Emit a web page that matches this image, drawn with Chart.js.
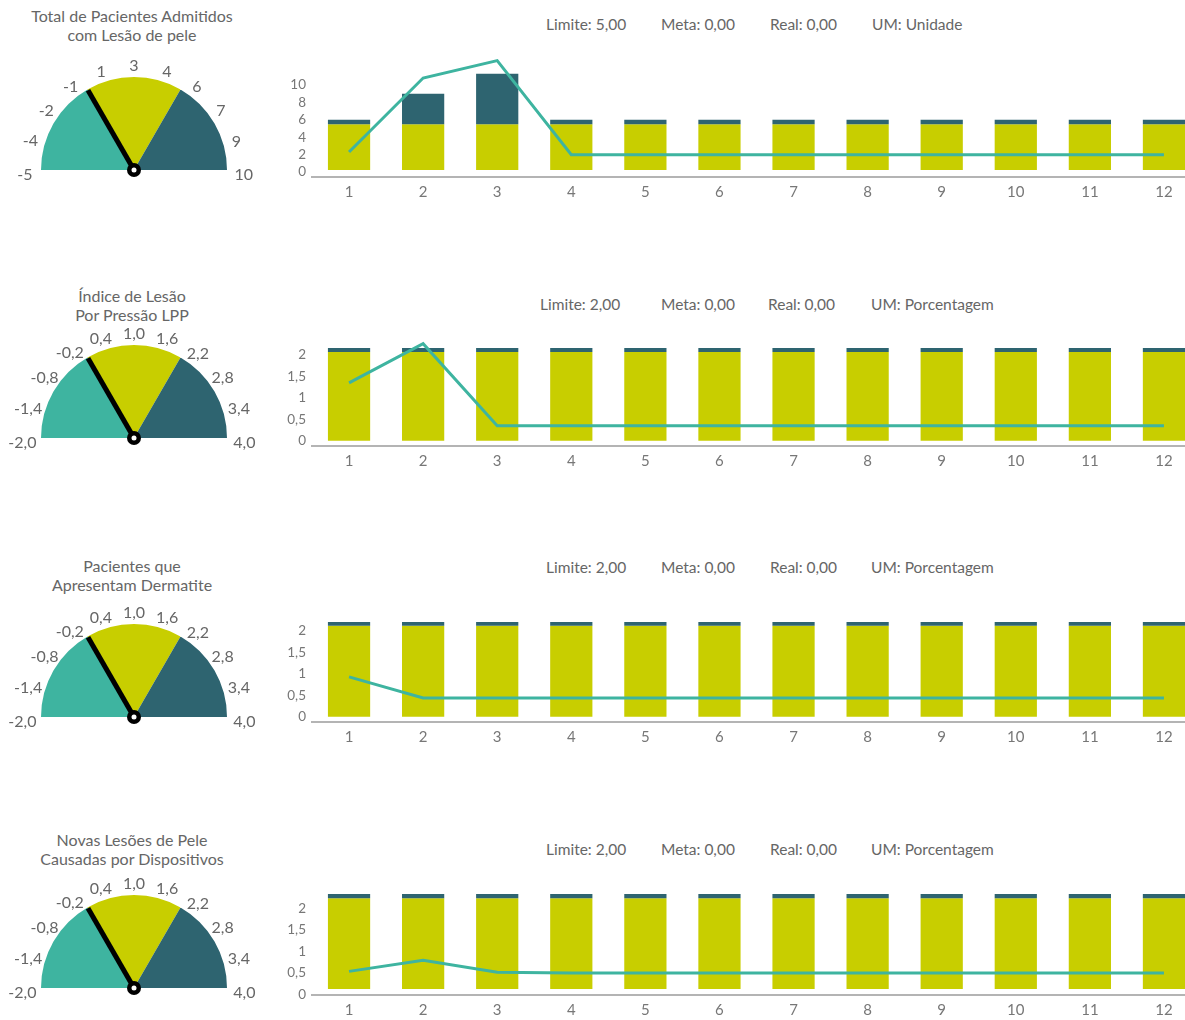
<!DOCTYPE html>
<html>
<head>
<meta charset="utf-8">
<script src="https://cdn.jsdelivr.net/npm/chart.js@4.4.0/dist/chart.umd.min.js"></script>
<style>
    body { margin: 0; width: 1185px; height: 1020px; overflow: hidden; position: relative; background: #fff; font-family: Lato, "Noto Sans", sans-serif; color: #666; }
    .title { position: absolute; left: 0; width: 264px; text-align: center; font-size: 16px; line-height: 19px; }
    .hdr { position: absolute; font-size: 15.5px; line-height: 18px; white-space: nowrap; }
    canvas { position: absolute; }
</style>
</head>
<body>
<script>
// Categories (months)
const months = ['1', '2', '3', '4', '5', '6', '7', '8', '9', '10', '11', '12'];

// Row titles and header values
const titles = [
    ['Total de Pacientes Admitidos', 'com Lesão de pele'],
    ['Índice de Lesão', 'Por Pressão LPP'],
    ['Pacientes que', 'Apresentam Dermatite'],
    ['Novas Lesões de Pele', 'Causadas por Dispositivos']
];
const limiteText = ['Limite: 5,00', 'Limite: 2,00', 'Limite: 2,00', 'Limite: 2,00'];
const metaText = ['Meta: 0,00', 'Meta: 0,00', 'Meta: 0,00', 'Meta: 0,00'];
const realText = ['Real: 0,00', 'Real: 0,00', 'Real: 0,00', 'Real: 0,00'];
const umText = ['UM: Unidade', 'UM: Porcentagem', 'UM: Porcentagem', 'UM: Porcentagem'];

// Gauge values
const gaugeMin = [-5, -2, -2, -2];
const gaugeMax = [10, 4, 4, 4];
const gaugeMeta = [0, 0, 0, 0];
const gaugeLimite = [5, 2, 2, 2];
const gaugeReal = [0, 0, 0, 0];
const gaugeTicksUnidade = ['-5', '-4', '-2', '-1', '1', '3', '4', '6', '7', '9', '10'];
const gaugeTicksPct = ['-2,0', '-1,4', '-0,8', '-0,2', '0,4', '1,0', '1,6', '2,2', '2,8', '3,4', '4,0'];

// Bar / line values per row
const barBase = [0.23, 0, 0, 0.12];
const yellowTop1 = [5.5, 5.5, 5.5, 5.5, 5.5, 5.5, 5.5, 5.5, 5.5, 5.5, 5.5, 5.5];
const darkTop1 = [6.0, 9.0, 11.3, 6.0, 6.0, 6.0, 6.0, 6.0, 6.0, 6.0, 6.0, 6.0];
const line1 = [2.3, 10.8, 12.8, 2.0, 2.0, 2.0, 2.0, 2.0, 2.0, 2.0, 2.0, 2.0];

const yellowTop2 = [2.07, 2.07, 2.07, 2.07, 2.07, 2.07, 2.07, 2.07, 2.07, 2.07, 2.07, 2.07];
const darkTop2 = [2.16, 2.16, 2.16, 2.16, 2.16, 2.16, 2.16, 2.16, 2.16, 2.16, 2.16, 2.16];
const line2 = [1.35, 2.26, 0.35, 0.35, 0.35, 0.35, 0.35, 0.35, 0.35, 0.35, 0.35, 0.35];

const yellowTop3 = [2.12, 2.12, 2.12, 2.12, 2.12, 2.12, 2.12, 2.12, 2.12, 2.12, 2.12, 2.12];
const darkTop3 = [2.21, 2.21, 2.21, 2.21, 2.21, 2.21, 2.21, 2.21, 2.21, 2.21, 2.21, 2.21];
const line3 = [0.93, 0.44, 0.44, 0.44, 0.44, 0.44, 0.44, 0.44, 0.44, 0.44, 0.44, 0.44];

const yellowTop4 = [2.23, 2.23, 2.23, 2.23, 2.23, 2.23, 2.23, 2.23, 2.23, 2.23, 2.23, 2.23];
const darkTop4 = [2.33, 2.33, 2.33, 2.33, 2.33, 2.33, 2.33, 2.33, 2.33, 2.33, 2.33, 2.33];
const line4 = [0.53, 0.79, 0.51, 0.49, 0.49, 0.49, 0.49, 0.49, 0.49, 0.49, 0.49, 0.49];

// Y axis ticks
const yTicksUnidade = [0, 2, 4, 6, 8, 10];
const yTicksPct = [0, 0.5, 1, 1.5, 2];

const yellowRows = [yellowTop1, yellowTop2, yellowTop3, yellowTop4];
const darkRows = [darkTop1, darkTop2, darkTop3, darkTop4];
const lineRows = [line1, line2, line3, line4];
const yTickRows = [yTicksUnidade, yTicksPct, yTicksPct, yTicksPct];
const gaugeTickRows = [gaugeTicksUnidade, gaugeTicksPct, gaugeTicksPct, gaugeTicksPct];

// Colors
const TEAL = 'rgb(62, 180, 160)';
const YELLOW = 'rgb(200, 206, 0)';
const DARK = 'rgb(46, 100, 112)';

// Layout (positions only)
const layout = [
    { titleTop: 6, hdrTop: 15, hdrX: [546, 661, 770, 872], gaugeCy: 170, plotTop: 55, plotH: 122, yMin: -0.57, yMax: 13.45 },
    { titleTop: 286, hdrTop: 295, hdrX: [540, 661, 768, 871], gaugeCy: 438, plotTop: 333, plotH: 113, yMin: -0.12, yMax: 2.51 },
    { titleTop: 556, hdrTop: 558, hdrX: [546, 661, 770, 871], gaugeCy: 717, plotTop: 609, plotH: 113, yMin: -0.12, yMax: 2.51 },
    { titleTop: 830, hdrTop: 840, hdrX: [546, 661, 770, 871], gaugeCy: 988, plotTop: 882, plotH: 113, yMin: -0.02, yMax: 2.61 }
];

function addEl(tag, cls, text, style) {
    const el = document.createElement(tag);
    if (cls) el.className = cls;
    if (text) el.textContent = text;
    Object.assign(el.style, style || {});
    document.body.appendChild(el);
    return el;
}

// Gauge needle + tick labels
const gaugePlugin = {
    id: 'gaugeExtras',
    afterDraw(chart) {
        const idx = chart.config.options.rowIndex;
        const arc = chart.getDatasetMeta(0).data[0];
        const cx = arc.x, cy = arc.y, r = arc.outerRadius;
        const ctx = chart.ctx;
        const ticks = gaugeTickRows[idx];

        ctx.save();
        ctx.font = '16px Lato, "Noto Sans", sans-serif';
        ctx.fillStyle = '#666';
        ctx.textAlign = 'center';
        ctx.textBaseline = 'middle';
        ticks.forEach(function(label, k) {
            const a = Math.PI + (k / (ticks.length - 1)) * Math.PI;
            const w = ctx.measureText(label).width;
            const c = Math.abs(Math.cos(a));
            const rr = r + 13 + 0.2 * w * c;
            ctx.fillText(label, cx + rr * Math.cos(a), cy + rr * Math.sin(a) + 2 + 3 * c);
        });

        // needle
        const frac = (gaugeReal[idx] - gaugeMin[idx]) / (gaugeMax[idx] - gaugeMin[idx]);
        const ang = Math.PI + frac * Math.PI;
        ctx.strokeStyle = '#000';
        ctx.lineWidth = 5;
        ctx.beginPath();
        ctx.moveTo(cx, cy);
        ctx.lineTo(cx + (r - 1) * Math.cos(ang), cy + (r - 1) * Math.sin(ang));
        ctx.stroke();

        ctx.fillStyle = '#000';
        ctx.beginPath();
        ctx.arc(cx, cy, 7, 0, Math.PI * 2);
        ctx.fill();
        ctx.fillStyle = '#fff';
        ctx.beginPath();
        ctx.arc(cx, cy, 2.5, 0, Math.PI * 2);
        ctx.fill();
        ctx.restore();
    }
};

function zeroPadding(scale) {
    scale.paddingTop = 0;
    scale.paddingBottom = 0;
    scale.paddingLeft = 0;
    scale.paddingRight = 0;
}

for (let i = 0; i < 4; i++) {
    const L = layout[i];

    // Title
    addEl('div', 'title', null, { top: L.titleTop + 'px' }).innerHTML = titles[i][0] + '<br>' + titles[i][1];

    // Header
    [limiteText[i], metaText[i], realText[i], umText[i]].forEach(function(t, k) {
        addEl('div', 'hdr', t, { left: L.hdrX[k] + 'px', top: L.hdrTop + 'px' });
    });

    // Gauge
    const gc = addEl('canvas', null, null, { left: '0px', top: (L.gaugeCy - 120) + 'px' });
    gc.width = 268; gc.height = 140;
    gc.style.width = '268px'; gc.style.height = '140px';
    new Chart(gc, {
        type: 'doughnut',
        data: {
            datasets: [{
                data: [gaugeMeta[i] - gaugeMin[i], gaugeLimite[i] - gaugeMeta[i], gaugeMax[i] - gaugeLimite[i]],
                backgroundColor: [TEAL, YELLOW, DARK],
                borderWidth: 0
            }]
        },
        options: {
            rowIndex: i,
            responsive: false,
            animation: false,
            rotation: -90,
            circumference: 180,
            cutout: 0,
            layout: { padding: { left: 41, right: 41, top: 27, bottom: 20 } },
            plugins: { legend: { display: false }, tooltip: { enabled: false } }
        },
        plugins: [gaugePlugin]
    });

    // Bars + line
    const bc = addEl('canvas', null, null, { left: '280px', top: L.plotTop + 'px' });
    const h = L.plotH + 28;
    bc.width = 921; bc.height = h;
    bc.style.width = '921px'; bc.style.height = h + 'px';
    const yTicks = yTickRows[i];

    new Chart(bc, {
        type: 'bar',
        data: {
            labels: months,
            datasets: [{
                type: 'line',
                data: lineRows[i],
                borderColor: TEAL,
                borderWidth: 3,
                pointRadius: 0,
                tension: 0,
                order: 0
            }, {
                data: months.map((m, j) => [yellowRows[i][j], darkRows[i][j]]),
                backgroundColor: DARK,
                categoryPercentage: 1,
                barPercentage: 0.57,
                order: 1
            }, {
                data: months.map((m, j) => [barBase[i], yellowRows[i][j]]),
                backgroundColor: YELLOW,
                categoryPercentage: 1,
                barPercentage: 0.57,
                order: 2
            }]
        },
        options: {
            responsive: false,
            animation: false,
            layout: { padding: 0 },
            plugins: { legend: { display: false }, tooltip: { enabled: false } },
            scales: {
                x: {
                    stacked: true,
                    grid: { display: false, drawTicks: false },
                    border: { display: true, color: '#b4b4b4', width: 2 },
                    ticks: { color: '#777', font: { size: 15, family: 'Lato' }, padding: 6, maxRotation: 0 },
                    afterFit: function(scale) { scale.height = 28; zeroPadding(scale); }
                },
                y: {
                    stacked: false,
                    min: L.yMin,
                    max: L.yMax,
                    grid: { display: false, drawTicks: false },
                    border: { display: false },
                    afterBuildTicks: function(scale) { scale.ticks = yTicks.map(v => ({ value: v })); },
                    ticks: {
                        color: '#777',
                        font: { size: 13.5, family: 'Lato' },
                        padding: 6,
                        callback: v => String(v).replace('.', ',')
                    },
                    afterFit: function(scale) { scale.width = 32; zeroPadding(scale); }
                }
            }
        }
    });
}
</script>
</body>
</html>
